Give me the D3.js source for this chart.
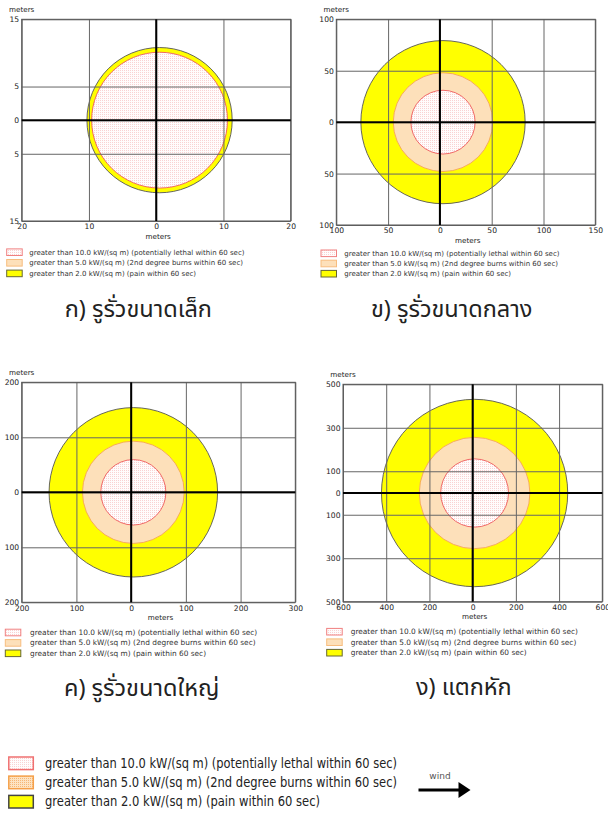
<!DOCTYPE html>
<html>
<head>
<meta charset="utf-8">
<script src="https://cdn.jsdelivr.net/npm/d3@7"></script>
<style>
  html, body { margin: 0; padding: 0; background: #fff; }
  svg { display: block; }
  .tick text { font-family: "DejaVu Sans", Verdana, sans-serif; fill: #222; }
  .caption { font-family: "Noto Sans Thai", "Noto Sans Thai Looped", Tahoma, "DejaVu Sans", sans-serif; fill: #222; }
</style>
</head>
<body>
<svg id="chart" width="608" height="813"></svg>
<script>
// Thermal radiation threat zones for four release scenarios (radii in meters)
const scenarios = ["ก) รูรั่วขนาดเล็ก", "ข) รูรั่วขนาดกลาง", "ค) รูรั่วขนาดใหญ่", "ง) แตกหัก"];
const lethalRadius = [10.1, 31, 59.5, 157];     // > 10.0 kW/(sq m)
const burnRadius   = [null, 48, 93, 256];       // > 5.0 kW/(sq m)
const painRadius   = [10.8, 79.3, 154, 431];    // > 2.0 kW/(sq m)
const zoneShiftX   = [0.5, 3, 4, 9];            // downwind shift of zone centers

const xDomains = [[-20, 20], [-100, 150], [-200, 300], [-600, 600]];
const yDomains = [[-15, 15], [-100, 100], [-200, 200], [-500, 500]];
const xTicks = [[-20, -10, 0, 10, 20], [-100, -50, 0, 50, 100, 150],
                [-200, -100, 0, 100, 200, 300], [-600, -400, -200, 0, 200, 400, 600]];
const yTicks = [[-15, -5, 0, 5, 15], [-100, -50, 0, 50, 100],
                [-200, -100, 0, 100, 200], [-500, -300, -100, 0, 100, 300, 500]];

const legendLabels = [
  "greater than 10.0 kW/(sq m) (potentially lethal within 60 sec)",
  "greater than 5.0 kW/(sq m) (2nd degree burns within 60 sec)",
  "greater than 2.0 kW/(sq m) (pain within 60 sec)"
];
const axisTitle = "meters";
const windLabel = "wind";

// Page layout of each panel
const layout = [
  { plot: [21.7, 19.3, 290.7, 221], legend: { sx: 6.7, tx: 29.3, y: 252.2, dy: 10.6, fs: 7.0 }, cap: [138.3, 316.5] },
  { plot: [336.3, 19.3, 595.3, 225], legend: { sx: 321, tx: 344.3, y: 253.3, dy: 10.2, fs: 7.0 }, cap: [451.7, 316.5] },
  { plot: [21.7, 382.3, 295.3, 602.3], legend: { sx: 5.3, tx: 30, y: 632.5, dy: 10.4, fs: 7.4 }, cap: [141.7, 695.5] },
  { plot: [343, 384.3, 602.3, 601.7], legend: { sx: 326.7, tx: 350.7, y: 631.7, dy: 10.5, fs: 7.4 }, cap: [463.8, 694.5] }
];

const zoneStyle = [
  { fill: "url(#lethalDots)", stroke: "#ee5a5a" },
  { fill: "#fde0ba", stroke: "#f6a553" },
  { fill: "#ffff00", stroke: "#555" }
];

const svg = d3.select("#chart");
const defs = svg.append("defs");

const pat = defs.append("pattern").attr("id", "lethalDots")
  .attr("patternUnits", "userSpaceOnUse").attr("width", 2).attr("height", 2);
pat.append("rect").attr("width", 2).attr("height", 2).attr("fill", "#fffcfc");
pat.append("rect").attr("width", 1).attr("height", 1).attr("fill", "#f9d2d2");

const pat2 = defs.append("pattern").attr("id", "burnDots")
  .attr("patternUnits", "userSpaceOnUse").attr("width", 2).attr("height", 2);
pat2.append("rect").attr("width", 2).attr("height", 2).attr("fill", "#fde3c2");
pat2.append("rect").attr("width", 1).attr("height", 1).attr("fill", "#f6b676");

scenarios.forEach((name, i) => {
  const [l, t, r, b] = layout[i].plot;
  const x = d3.scaleLinear().domain(xDomains[i]).range([l, r]);
  const y = d3.scaleLinear().domain(yDomains[i]).range([b, t]);
  const g = svg.append("g");

  // zones, largest first
  const zones = [
    { r: painRadius[i], s: zoneStyle[2] },
    { r: burnRadius[i], s: zoneStyle[1] },
    { r: lethalRadius[i], s: zoneStyle[0] }
  ].filter(z => z.r != null);

  g.selectAll("ellipse.zone").data(zones).join("ellipse")
    .attr("class", "zone")
    .attr("cx", x(zoneShiftX[i]))
    .attr("cy", y(0))
    .attr("rx", d => x(zoneShiftX[i] + d.r) - x(zoneShiftX[i]))
    .attr("ry", d => y(0) - y(d.r))
    .attr("fill", d => d.s.fill)
    .attr("stroke", d => d.s.stroke)
    .attr("stroke-width", 0.9);

  // grid + tick labels
  const xAxis = d3.axisBottom(x).tickValues(xTicks[i]).tickFormat(d => Math.abs(d))
    .tickSizeInner(-(b - t)).tickSizeOuter(0).tickPadding(3);
  const yAxis = d3.axisLeft(y).tickValues(yTicks[i]).tickFormat(d => Math.abs(d))
    .tickSizeInner(-(r - l)).tickSizeOuter(0).tickPadding(2.5);

  const gx = g.append("g").attr("transform", `translate(0,${b})`).call(xAxis);
  const gy = g.append("g").attr("transform", `translate(${l},0)`).call(yAxis);
  [gx, gy].forEach(a => {
    a.select(".domain").remove();
    a.selectAll(".tick line").attr("stroke", "#666").attr("stroke-width", 1);
    a.selectAll(".tick text").attr("font-size", 7.6);
  });

  // frame
  g.append("rect").attr("x", l).attr("y", t).attr("width", r - l).attr("height", b - t)
    .attr("fill", "none").attr("stroke", "#555").attr("stroke-width", 1);

  // heavy zero lines
  g.append("line").attr("x1", l).attr("x2", r).attr("y1", y(0)).attr("y2", y(0))
    .attr("stroke", "#000").attr("stroke-width", 2);
  g.append("line").attr("x1", x(0)).attr("x2", x(0)).attr("y1", t).attr("y2", b)
    .attr("stroke", "#000").attr("stroke-width", 2);

  // axis titles
  g.append("text").attr("x", l).attr("y", t - 7).attr("text-anchor", "middle")
    .attr("font-family", "DejaVu Sans, Verdana, sans-serif").attr("font-size", 7.2).attr("fill", "#222")
    .text(axisTitle);
  g.append("text").attr("x", (l + r) / 2 + 2).attr("y", b + 17.5).attr("text-anchor", "middle")
    .attr("font-family", "DejaVu Sans, Verdana, sans-serif").attr("font-size", 7.2).attr("fill", "#222")
    .text(axisTitle);

  // panel legend
  const lg = layout[i].legend;
  const swW = 15.5, swH = 6.6;
  const legendSw = [
    { fill: "url(#lethalDots)", stroke: "#f08080" },
    { fill: "#fde0ba", stroke: "#f7bd7f" },
    { fill: "#ffff00", stroke: "#666633" }
  ];
  legendLabels.forEach((lab, k) => {
    const cy = lg.y + k * lg.dy;
    g.append("rect").attr("x", lg.sx).attr("y", cy - swH / 2).attr("width", swW).attr("height", swH)
      .attr("fill", legendSw[k].fill).attr("stroke", legendSw[k].stroke).attr("stroke-width", 1);
    g.append("text").attr("x", lg.tx).attr("y", cy).attr("dy", "0.35em")
      .attr("font-family", "DejaVu Sans, Verdana, sans-serif").attr("font-size", lg.fs).attr("fill", "#333")
      .text(lab);
  });

  // caption
  g.append("text").attr("class", "caption").attr("x", layout[i].cap[0]).attr("y", layout[i].cap[1])
    .attr("text-anchor", "middle").attr("font-size", 23.5).text(name);
});

// shared legend at the bottom
const bigSw = [
  { fill: "url(#lethalDots)", stroke: "#f07070" },
  { fill: "url(#burnDots)", stroke: "#f5a04a" },
  { fill: "#ffff00", stroke: "#444" }
];
const bigRows = [763.3, 782.4, 801.7];
const bigWidths = [352, 352, 275];
legendLabels.forEach((lab, k) => {
  svg.append("rect").attr("x", 8.8).attr("y", bigRows[k] - 6.3).attr("width", 24.5).attr("height", 12.6)
    .attr("fill", bigSw[k].fill).attr("stroke", bigSw[k].stroke).attr("stroke-width", 1.5);
  svg.append("text").attr("x", 45).attr("y", bigRows[k]).attr("dy", "0.35em")
    .attr("font-family", "DejaVu Sans, Verdana, sans-serif").attr("font-size", 13.2).attr("fill", "#222")
    .attr("textLength", bigWidths[k]).attr("lengthAdjust", "spacingAndGlyphs")
    .text(lab);
});

// wind direction arrow
svg.append("text").attr("x", 440).attr("y", 779).attr("text-anchor", "middle")
  .attr("font-family", "DejaVu Sans, Verdana, sans-serif").attr("font-size", 9).attr("fill", "#555")
  .text(windLabel);
svg.append("line").attr("x1", 418.5).attr("x2", 461).attr("y1", 790).attr("y2", 790)
  .attr("stroke", "#000").attr("stroke-width", 3.2);
svg.append("path").attr("d", d3.line()([[458.5, 782], [470.5, 790], [458.5, 798]]) + "Z")
  .attr("fill", "#000");
</script>
</body>
</html>
